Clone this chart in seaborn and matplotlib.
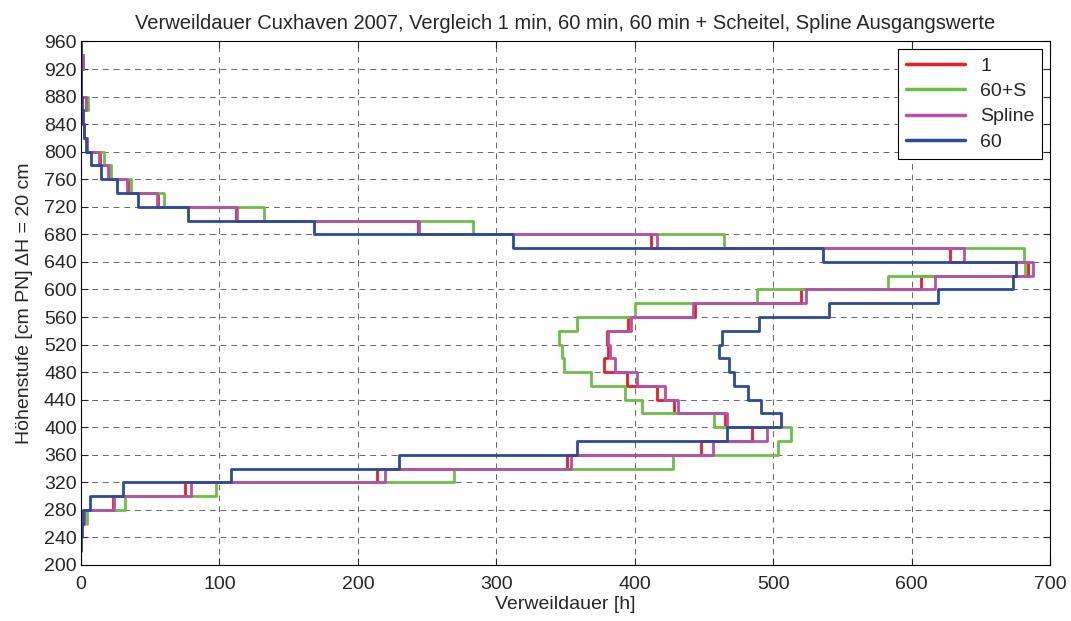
import numpy as np
import pandas as pd
import matplotlib
matplotlib.use("Agg")
import matplotlib.pyplot as plt
import seaborn as sns

# Lower edges of the 20 cm height bands [cm PN]
levels = [220, 240, 260, 280, 300, 320, 340, 360, 380, 400, 420, 440, 460, 480,
          500, 520, 540, 560, 580, 600, 620, 640, 660, 680, 700, 720, 740, 760,
          780, 800, 820, 840, 860, 880, 900, 920, 940]
band = 20
nan = np.nan

# Verweildauer [h] per band
v_1 = [nan, nan, 2.0, 23, 75, 214, 351, 448, 485, 465, 428.5, 416, 394.5, 377.5,
       381, 380, 395.5, 443.5, 520, 606.5, 684, 628, 412, 243.5, 112, 56, 34, 20,
       13.5, 4.2, 2.0, 0.5, 3.5, 0, 0, 1.5, 0]
v_60s = [nan, nan, 4.0, 32, 97.5, 269.5, 428, 503.5, 513, 457, 405, 393, 368.5, 349,
         347.5, 345, 358, 400.5, 488, 583, 682, 681, 464.5, 283, 132, 60, 36, 21.5,
         16.7, 4.5, 2.2, 0.3, 4.8, 0, 0, 1.8, 0]
v_spline = [nan, nan, 2.3, 24, 79.5, 219.5, 354, 456.5, 495.5, 466.5, 431.5, 422, 401.5, 385.5,
            382.5, 381, 397.5, 442, 524, 617, 688, 638, 416, 244.5, 112.5, 55, 33, 19.5,
            13, 4.3, 2.0, 0.8, 3.4, 0, 0, 1.2, 0]
v_60 = [0.2, 0.4, 1.5, 6.5, 30.5, 108.5, 230, 358.5, 466.5, 506, 491, 482, 472, 468,
        461, 463, 490, 540, 619, 673.5, 675.5, 536, 312, 168, 77, 41.5, 26, 14.2,
        7, 3.6, 2.2, 1.5, 0.5, 0, 0, 0, 0]

series_names = ["1", "60+S", "Spline", "60"]
series_vals = [v_1, v_60s, v_spline, v_60]
colors = {"1": "#ed1c24", "60+S": "#6cbf45", "Spline": "#b551a8", "60": "#2d4b9c"}

rows = []
for name, vals in zip(series_names, series_vals):
    order = 0
    for lo, v in zip(levels, vals):
        if np.isnan(v):
            continue
        rows.append((name, v, lo, order)); order += 1
        rows.append((name, v, lo + band, order)); order += 1
df = pd.DataFrame(rows, columns=["Serie", "Verweildauer", "Hoehe", "ord"])

sns.set_style("ticks")
plt.rcParams["font.family"] = ["Liberation Sans", "DejaVu Sans"]

fig = plt.figure(figsize=(10.71, 6.21), dpi=100)
ax = fig.add_axes([0.0756, 0.0902, 0.9048, 0.843])

sns.lineplot(data=df, x="Verweildauer", y="Hoehe", hue="Serie", hue_order=series_names,
             palette=colors, sort=False, estimator=None, units="Serie", ax=ax,
             linewidth=2.0)

ax.set_xlim(0, 700)
ax.set_ylim(200, 960)
ax.set_xticks(np.arange(0, 701, 100))
ax.set_yticks(np.arange(200, 961, 40))
ax.tick_params(direction="in", top=True, right=True, labelsize=14, length=5, width=0.8, pad=3)
ax.tick_params(axis="x", pad=8)
for s in ax.spines.values():
    s.set_visible(True)
    s.set_color("black")
    s.set_linewidth(0.8)
ax.grid(True, color="black", linestyle=(0, (6, 5)), linewidth=0.7, alpha=0.6)

ax.set_xlabel("Verweildauer [h]", fontsize=14, labelpad=2)
ax.set_ylabel("Höhenstufe [cm PN] \u0394H = 20 cm", fontsize=14, labelpad=8)
ax.set_title("Verweildauer Cuxhaven 2007, Vergleich 1 min, 60 min, 60 min + Scheitel, Spline Ausgangswerte",
             fontsize=14.5, pad=9)

leg = ax.legend(loc="upper right", fontsize=14, handlelength=3.0, frameon=True,
                fancybox=False, edgecolor="black", framealpha=1,
                borderaxespad=0.4, labelspacing=0.4, borderpad=0.4, title=None)
leg.get_frame().set_linewidth(0.8)
for line in leg.get_lines():
    line.set_linewidth(2.5)

fig.savefig("out.png", dpi=100)
